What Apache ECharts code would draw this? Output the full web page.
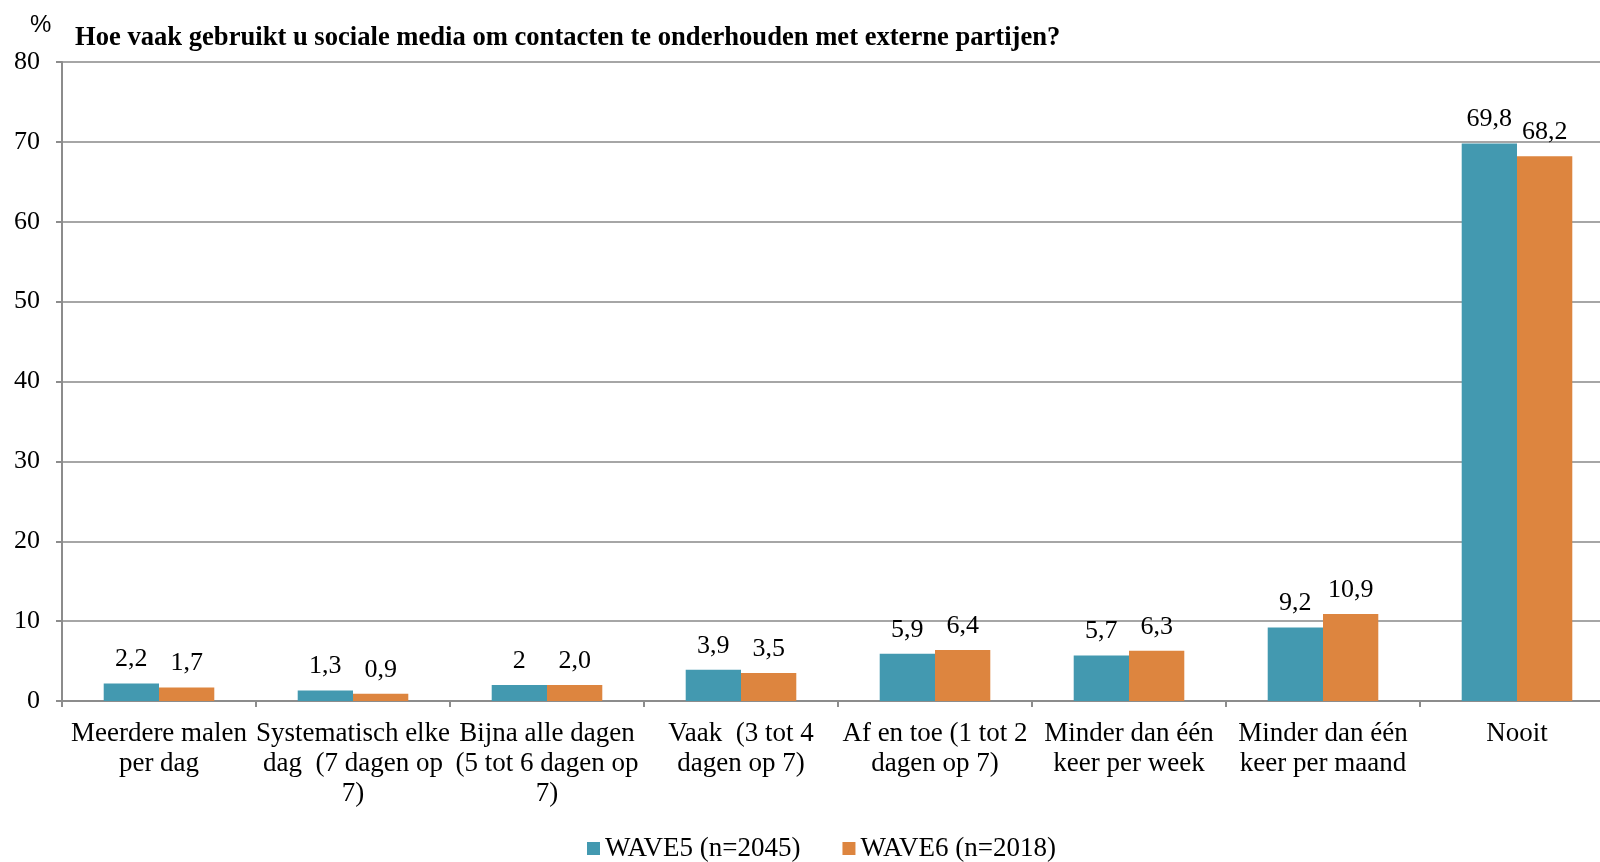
<!DOCTYPE html>
<html><head><meta charset="utf-8">
<script src="https://cdn.jsdelivr.net/npm/echarts@6/dist/echarts.min.js"></script>
<style>html,body{margin:0;padding:0;background:#fff;overflow:hidden;width:1600px;height:862px}#c{width:1614px;height:862px}</style>
</head><body><div id="c"></div>
<script>
const categories = ["Meerdere malen\nper dag","Systematisch elke\ndag  (7 dagen op\n7)","Bijna alle dagen\n(5 tot 6 dagen op\n7)","Vaak  (3 tot 4\ndagen op 7)","Af en toe (1 tot 2\ndagen op 7)","Minder dan één\nkeer per week","Minder dan één\nkeer per maand","Nooit"];
const wave5 = [2.2,1.3,2.0,3.9,5.9,5.7,9.2,69.8];
const wave6 = [1.7,0.9,2.0,3.5,6.4,6.3,10.9,68.2];
const wave5Labels = ["2,2","1,3","2","3,9","5,9","5,7","9,2","69,8"];
const wave6Labels = ["1,7","0,9","2,0","3,5","6,4","6,3","10,9","68,2"];
const yTicks = [0,10,20,30,40,50,60,70,80];
const seriesNames = ["WAVE5 (n=2045)","WAVE6 (n=2018)"];

const serif = "Liberation Serif";
const chart = echarts.init(document.getElementById('c'));
chart.setOption({
  animation:false,
  title:[
    {text:"Hoe vaak gebruikt u sociale media om contacten te onderhouden met externe partijen?",left:70,top:20,textStyle:{fontFamily:serif,fontWeight:'bold',fontSize:26.6,color:'#000'}},
    {text:"%",left:25,top:8,textStyle:{fontFamily:"Liberation Sans",fontWeight:'normal',fontSize:24,color:'#000'}}
  ],
  legend:{left:582,top:830,itemWidth:13,itemHeight:13,itemGap:42,icon:'rect',
    textStyle:{fontFamily:serif,fontSize:27,color:'#000'},
    data:seriesNames},
  grid:{left:62,right:0,top:62,bottom:161,containLabel:false},
  xAxis:{type:'category',data:categories,
    axisLine:{lineStyle:{color:'#8c8c8c',width:2}},
    axisTick:{show:true,length:6,lineStyle:{color:'#8c8c8c',width:2}},
    axisLabel:{fontFamily:serif,fontSize:27,color:'#000',lineHeight:30,margin:18,interval:0}},
  yAxis:{type:'value',min:yTicks[0],max:yTicks[yTicks.length-1],interval:10,
    axisLine:{show:true,lineStyle:{color:'#8c8c8c',width:2}},
    axisTick:{show:true,length:6,lineStyle:{color:'#8c8c8c',width:2}},
    splitLine:{lineStyle:{color:'#a6a6a6',width:2}},
    axisLabel:{fontFamily:serif,fontSize:26,color:'#000',margin:22}},
  series:[
    {name:seriesNames[0],type:'bar',data:wave5,barGap:'0%',barCategoryGap:'43%',
     itemStyle:{color:'#4399b0'},
     label:{show:true,position:'top',distance:11,fontFamily:serif,fontSize:26,color:'#000',formatter:p=>wave5Labels[p.dataIndex]}},
    {name:seriesNames[1],type:'bar',data:wave6,
     itemStyle:{color:'#dd853f'},
     label:{show:true,position:'top',distance:11,fontFamily:serif,fontSize:26,color:'#000',formatter:p=>wave6Labels[p.dataIndex]}}
  ]
});
</script></body></html>
